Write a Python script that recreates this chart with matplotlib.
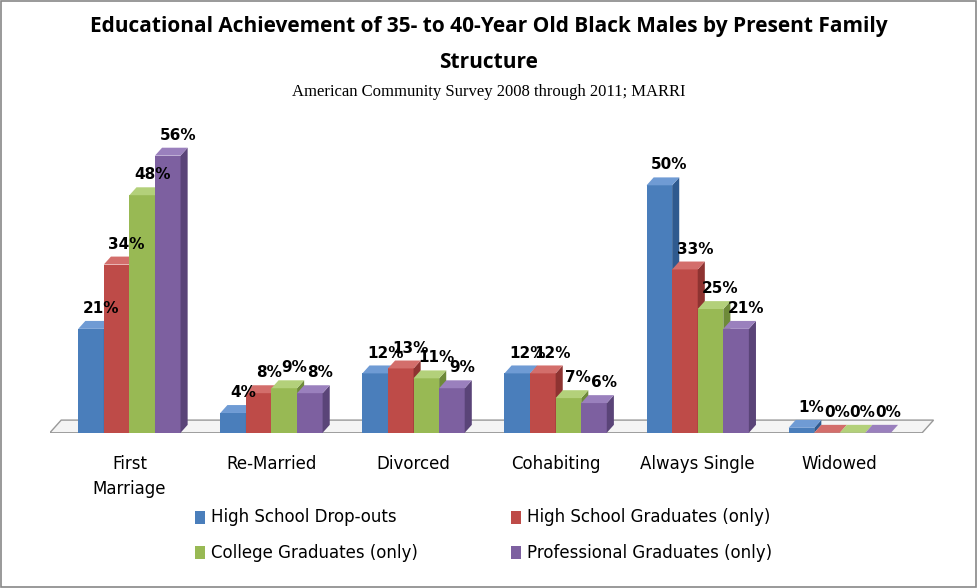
import matplotlib
matplotlib.use("Agg")
import matplotlib.pyplot as plt
from matplotlib.patches import Polygon, Rectangle
import numpy as np

categories = ["First\nMarriage", "Re-Married", "Divorced", "Cohabiting", "Always Single", "Widowed"]
series = ["High School Drop-outs", "High School Graduates (only)",
          "College Graduates (only)", "Professional Graduates (only)"]
values = [
    [21, 4, 12, 12, 50, 1],
    [34, 8, 13, 12, 33, 0],
    [48, 9, 11, 7, 25, 0],
    [56, 8, 9, 6, 21, 0],
]
front = ["#4a7ebb", "#be4b48", "#98b954", "#7d60a0"]
side = ["#2f5a8f", "#8e3331", "#6e8a39", "#5a4478"]
top = ["#6f9bd4", "#d36e6b", "#b3d07a", "#9a80bd"]

fig = plt.figure(figsize=(9.77, 5.88), dpi=100)
fig.patches.append(Rectangle((0.001, 0.001), 0.998, 0.998, transform=fig.transFigure,
                             fill=False, ec="#888888", lw=1.2))
ax = fig.add_axes([0.051, 0.264, 0.906, 0.505])
ax.set_xlim(-0.56, 5.67)
ax.set_ylim(0, 60)
ax.axis("off")

w = 0.18
dx, dy = 0.05, 1.6
ax.add_patch(Polygon([(-0.56, 0), (5.58, 0), (5.58 + dx * 1.6, dy * 1.6), (-0.56 + dx * 1.6, dy * 1.6)],
                     closed=True, fc="#f4f4f4", ec="#999999", lw=1, zorder=0))
for j in range(4):
    for i in range(len(categories)):
        v = values[j][i]
        x0 = i + (j - 2) * w
        ax.bar(x0, v, width=w, align="edge", color=front[j], zorder=2 + i * 4 + j, lw=0)
        ax.add_patch(Polygon([(x0 + w, 0), (x0 + w + dx, dy), (x0 + w + dx, v + dy), (x0 + w, v)],
                             closed=True, fc=side[j], lw=0, zorder=2 + i * 4 + j))
        ax.add_patch(Polygon([(x0, v), (x0 + dx, v + dy), (x0 + w + dx, v + dy), (x0 + w, v)],
                             closed=True, fc=top[j], lw=0, zorder=2 + i * 4 + j))
        ax.text(x0 + w / 2 + dx + 0.02, v + dy + 1.0, f"{v}%", ha="center", va="bottom",
                fontsize=11, fontweight="bold", zorder=50)

for i, c in enumerate(categories):
    ax.text(i, -4.5, c, ha="center", va="top", fontsize=12, linespacing=1.5)

fig.text(0.5, 0.955, "Educational Achievement of 35- to 40-Year Old Black Males by Present Family",
         ha="center", va="center", fontsize=15, fontweight="bold", family="Open Sans")
fig.text(0.5, 0.893, "Structure", ha="center", va="center", fontsize=15, fontweight="bold", family="Open Sans")
fig.text(0.5, 0.843, "American Community Survey 2008 through 2011; MARRI", ha="center", va="center",
         fontsize=12, family="Liberation Serif")

lpos = [(0.2, 0.12), (0.523, 0.12), (0.2, 0.06), (0.523, 0.06)]
for (x, y), s, c in zip(lpos, series, front):
    fig.patches.append(Rectangle((x, y - 0.011), 0.01, 0.022, transform=fig.transFigure, fc=c, lw=0))
    fig.text(x + 0.016, y, s, va="center", fontsize=12)

fig.savefig("out.png", dpi=100)
